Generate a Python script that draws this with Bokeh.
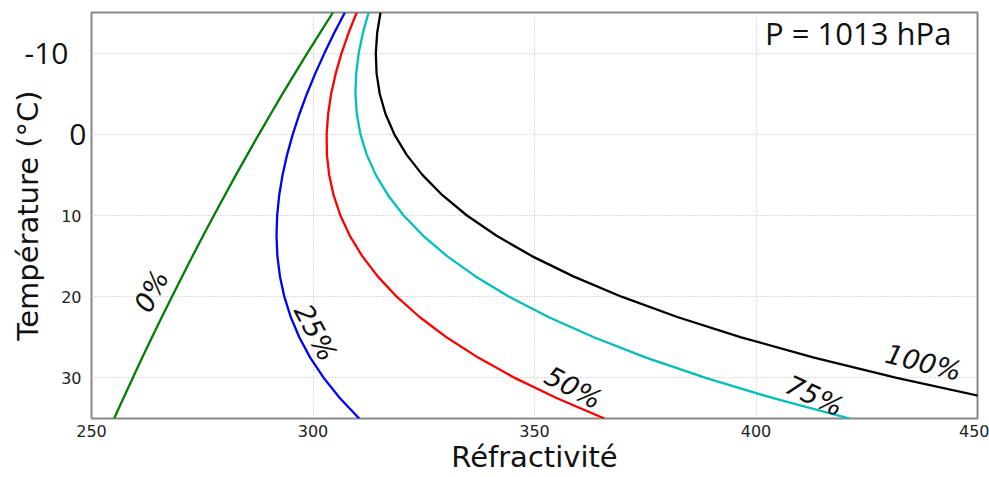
import math
from bokeh.plotting import figure
from bokeh.models import Range1d, FixedTicker, Label, LinearAxis
from bokeh.embed import file_html
from bokeh.resources import INLINE

# Temperature (°C) and refractivity values for each relative humidity
temps = [-15, -12.5, -10, -7.5, -5, -2.5, 0, 2.5, 5, 7.5, 10, 12.5, 15, 17.5,
         20, 22.5, 25, 27.5, 30, 32.5, 35]
n_0 = [304.51, 301.59, 298.72, 295.91, 293.15, 290.44, 287.79, 285.18, 282.61,
       280.10, 277.62, 275.19, 272.81, 270.46, 268.15, 265.88, 263.66, 261.46,
       259.31, 257.19, 255.10]
n_25 = [307.19, 304.81, 302.59, 300.52, 298.63, 296.93, 295.43, 294.16, 293.13,
        292.37, 291.91, 291.76, 291.96, 292.54, 293.53, 294.97, 296.90, 299.37,
        302.42, 306.09, 310.44]
n_50 = [309.87, 308.04, 306.45, 305.13, 304.10, 303.41, 303.08, 303.14, 303.65,
        304.65, 306.19, 308.32, 311.11, 314.61, 318.90, 324.06, 330.15, 337.28,
        345.53, 355.09, 365.78]
n_75 = [312.56, 311.27, 310.32, 309.74, 309.58, 309.89, 310.72, 312.12, 314.17,
        316.93, 320.47, 324.88, 330.26, 336.69, 344.28, 353.14, 363.40, 375.19,
        388.64, 403.89, 421.11]
n_100 = [315.24, 314.49, 314.18, 314.35, 315.06, 316.37, 318.36, 321.11, 324.69,
         329.21, 334.75, 341.45, 349.41, 358.77, 369.65, 382.23, 396.65, 413.10,
         431.75, 452.80, 476.45]

series = [n_0, n_25, n_50, n_75, n_100]
colors = ["#008000", "#0000ff", "#ff0000", "#00bfbf", "#000000"]
rh_labels = ["0%", "25%", "50%", "75%", "100%"]
x_ticks = [250, 300, 350, 400, 450]
y_ticks = [-10, 0, 10, 20, 30]
y_ticks_big_inner = [0]
y_ticks_small = [10, 20, 30]
y_ticks_big_outer = [-10]

p = figure(width=989, height=477, output_backend="svg", toolbar_location=None,
           x_range=Range1d(250, 450), y_range=Range1d(35, -15),
           min_border_left=91, min_border_right=12, min_border_top=12,
           min_border_bottom=59, y_axis_location=None)
p.background_fill_color = "white"
p.border_fill_color = "white"
p.outline_line_color = "#888888"
p.outline_line_width = 2

for vals, col in zip(series, colors):
    p.line(vals, temps, line_color=col, line_width=2.3)


def style_axis(ax, font, size, standoff):
    ax.axis_line_color = None
    ax.major_tick_line_color = None
    ax.minor_tick_line_color = None
    ax.major_tick_out = 0
    ax.major_tick_in = 0
    ax.minor_tick_out = 0
    ax.minor_tick_in = 0
    ax.major_label_text_font = font
    ax.major_label_text_font_size = size
    ax.major_label_text_color = "#222222"
    ax.major_label_standoff = standoff
    ax.axis_label_text_font = "DejaVu Sans"
    ax.axis_label_text_font_size = "29px"
    ax.axis_label_text_font_style = "normal"
    ax.axis_label_text_color = "#111111"


# x axis
p.xaxis.ticker = FixedTicker(ticks=x_ticks)
style_axis(p.xaxis[0], "DejaVu Sans", "16px", 6)
p.xaxis.axis_label = "Réfractivité"
p.xaxis.axis_label_standoff = 0

# y axes: inner big "0", small 10/20/30, outer big "-10"
ax1 = LinearAxis(ticker=FixedTicker(ticks=y_ticks_big_inner))
style_axis(ax1, "Open Sans", "30px", 5)
ax1.major_label_text_color = "#111111"
p.add_layout(ax1, "left")

ax2 = LinearAxis(ticker=FixedTicker(ticks=y_ticks_small))
style_axis(ax2, "DejaVu Sans", "16px", -15)
p.add_layout(ax2, "left")

ax3 = LinearAxis(ticker=FixedTicker(ticks=y_ticks_big_outer))
style_axis(ax3, "Open Sans", "30px", -10)
ax3.major_label_text_color = "#111111"
ax3.major_label_overrides = {-10: "-10"}
ax3.axis_label = "Température (°C)"
ax3.axis_label_standoff = -23
p.add_layout(ax3, "left")

p.xgrid.ticker = FixedTicker(ticks=x_ticks)
p.ygrid.ticker = FixedTicker(ticks=y_ticks)
p.grid.grid_line_color = "#bbbbbb"
p.grid.grid_line_dash = "1 2"
p.grid.grid_line_width = 1

# pressure annotation
p.add_layout(Label(x=444.1, y=-12.5, text="P = 1013 hPa", text_align="right",
                   text_baseline="middle", text_font="Open Sans",
                   text_font_size="31px", text_color="#111111"))

# humidity labels on curves
lab_x = [263.5, 300.6, 358.8, 413.2, 437.8]
lab_y = [19.3, 24.4, 31.2, 32.2, 28.1]
lab_ang = [62, -62, -28, -25, -14]
for t, lx, ly, la in zip(rh_labels, lab_x, lab_y, lab_ang):
    p.add_layout(Label(x=lx, y=ly, text=t, angle=math.radians(la),
                       text_align="center", text_baseline="middle",
                       text_font="DejaVu Sans", text_font_style="italic",
                       text_font_size="27px", text_color="#111111"))

open("out.html", "w").write(file_html(p, INLINE))
